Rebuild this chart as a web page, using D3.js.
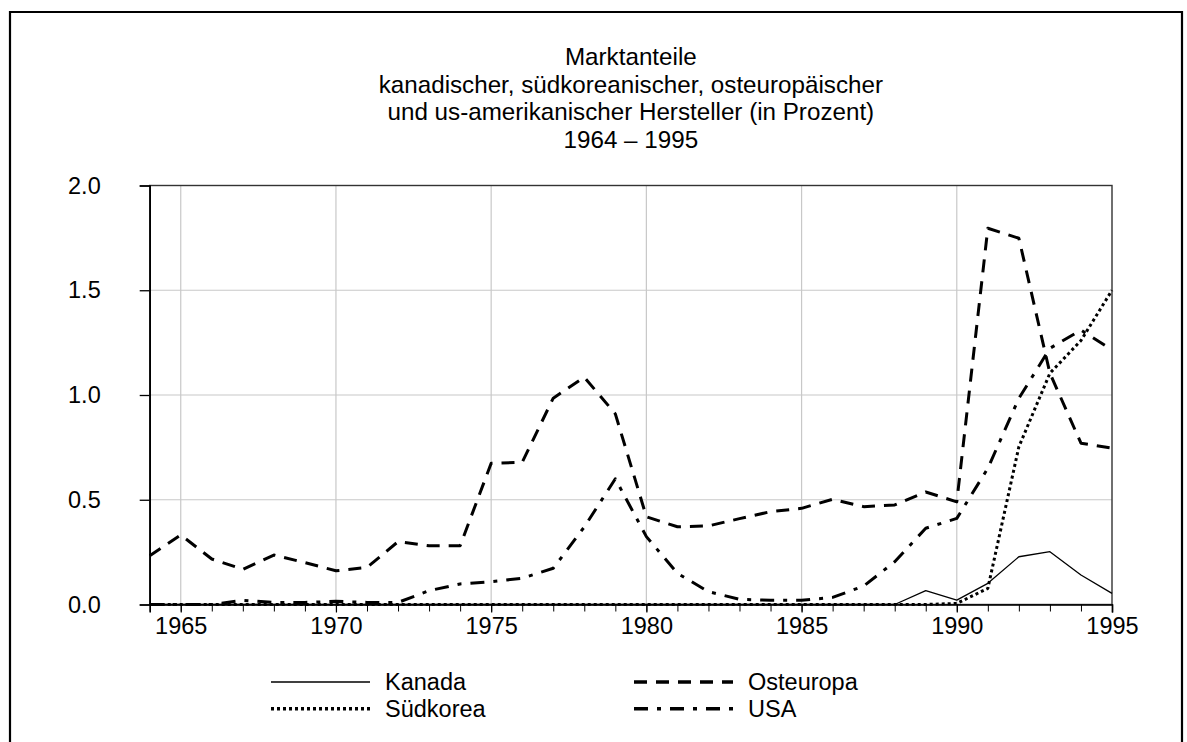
<!DOCTYPE html>
<html><head><meta charset="utf-8">
<script src="https://cdn.jsdelivr.net/npm/d3@7"></script>
<style>html,body{margin:0;padding:0;background:#fff;}svg{display:block;}</style>
</head><body>
<svg id="chart" width="1187" height="742"></svg>
<script>
const years = d3.range(1964, 1996);
const kanada = [0,0,0,0,0,0,0,0,0,0,0,0,0,0,0,0,0,0,0,0,0,0,0,0,0,0.066,0.021,0.101,0.228,0.252,0.141,0.053];
const suedkorea = [0,0,0,0,0,0,0,0,0,0,0,0,0,0,0,0,0,0,0,0,0,0,0,0,0,0,0.005,0.077,0.753,1.104,1.26,1.50];
const osteuropa = [0.233,0.332,0.217,0.168,0.236,0.20,0.161,0.177,0.30,0.28,0.28,0.674,0.679,0.985,1.085,0.91,0.419,0.371,0.375,0.41,0.443,0.459,0.502,0.467,0.475,0.537,0.49,1.796,1.748,1.104,0.77,0.746];
const usa = [0,0,0,0.02,0.01,0.01,0.015,0.01,0.01,0.066,0.098,0.109,0.125,0.173,0.37,0.60,0.324,0.149,0.061,0.025,0.02,0.02,0.034,0.088,0.204,0.364,0.411,0.65,0.984,1.223,1.31,1.215];
const seriesNames = ["Kanada","Südkorea","Osteuropa","USA"];
const yTicks = [0, 0.5, 1.0, 1.5, 2.0];
const xTicks = [1965, 1970, 1975, 1980, 1985, 1990, 1995];
const titleLines = ["Marktanteile","kanadischer, südkoreanischer, osteuropäischer","und us-amerikanischer Hersteller (in Prozent)","1964 – 1995"];

const styles = {
  "Kanada": {w:1.3, dash:null},
  "Südkorea": {w:3, dash:"3,3"},
  "Osteuropa": {w:3, dash:"13,9"},
  "USA": {w:3, dash:"14,9,4,9"}
};
const dataMap = {"Kanada":kanada,"Südkorea":suedkorea,"Osteuropa":osteuropa,"USA":usa};

const svg = d3.select("#chart");
const font = "Arial, 'Liberation Sans', sans-serif";
const L=149.7, R=1112, T=185.5, B=604.5;
const x = d3.scaleLinear().domain([1964,1995]).range([L,R]);
const y = d3.scaleLinear().domain([0,2]).range([B,T]);

// outer frame (no bottom edge visible)
svg.append("path").attr("d","M10,745V12H1182V745").attr("fill","none").attr("stroke","#000").attr("stroke-width",2.2);

// title
svg.append("g").selectAll("text").data(titleLines).join("text")
  .attr("x",(L+R)/2).attr("y",(d,i)=>65+i*27.5)
  .attr("text-anchor","middle").attr("font-family",font).attr("font-size",24.2).attr("fill","#000")
  .text(d=>d);

// grid
const g = svg.append("g");
g.selectAll(".gx").data(xTicks.filter(t=>t<1995)).join("line")
  .attr("x1",d=>x(d)).attr("x2",d=>x(d)).attr("y1",T).attr("y2",B)
  .attr("stroke","#c8c8c8").attr("stroke-width",1.2);
g.selectAll(".gy").data(yTicks.filter(t=>t>0&&t<2)).join("line")
  .attr("x1",L).attr("x2",R).attr("y1",d=>y(d)).attr("y2",d=>y(d))
  .attr("stroke","#c8c8c8").attr("stroke-width",1.2);

// frame of plot
svg.append("rect").attr("x",L).attr("y",T).attr("width",R-L).attr("height",B-T)
  .attr("fill","none").attr("stroke","#333").attr("stroke-width",1.4);

// y axis
const yAxis = d3.axisLeft(y).tickValues(yTicks).tickFormat(d3.format(".1f")).tickSize(10).tickPadding(39);
const ya = svg.append("g").attr("transform",`translate(${L},0)`).call(yAxis);
ya.select(".domain").attr("stroke","#000").attr("stroke-width",1.6);
ya.selectAll(".tick line").attr("stroke","#000").attr("stroke-width",1.3);
ya.selectAll("text").attr("font-family",font).attr("font-size",23.5).attr("fill","#000");

// x axis minor ticks
const xMinor = d3.axisBottom(x).tickValues(years).tickFormat("").tickSize(7);
const xm = svg.append("g").attr("transform",`translate(0,${B})`).call(xMinor);
xm.select(".domain").remove();
xm.selectAll(".tick line").attr("stroke","#000").attr("stroke-width",1);

const xAxis = d3.axisBottom(x).tickValues(xTicks).tickFormat(d3.format("d")).tickSize(8).tickPadding(5);
const xa = svg.append("g").attr("transform",`translate(0,${B})`).call(xAxis);
xa.select(".domain").attr("stroke","#000").attr("stroke-width",1.6);
xa.selectAll(".tick line").attr("stroke","#000").attr("stroke-width",1.2);
xa.selectAll("text").attr("font-family",font).attr("font-size",23.5).attr("fill","#000");

// lines
const line = d3.line().x((d,i)=>x(years[i])).y(d=>y(d));
const lg = svg.append("g");
seriesNames.forEach(n=>{
  lg.append("path").datum(dataMap[n]).attr("d",line)
    .attr("fill","none").attr("stroke","#000").attr("stroke-width",styles[n].w)
    .attr("stroke-dasharray",styles[n].dash).attr("stroke-linejoin","round");
});

// legend
const legPos = {"Kanada":[271,682],"Südkorea":[271,708.7],"Osteuropa":[634,682],"USA":[634,708.7]};
seriesNames.forEach(n=>{
  const [lx,ly] = legPos[n];
  svg.append("line").attr("x1",lx).attr("x2",lx+99).attr("y1",ly).attr("y2",ly)
    .attr("stroke","#000").attr("stroke-width",n==="Kanada"?1.5:styles[n].w+0.5).attr("stroke-dasharray",styles[n].dash);
  svg.append("text").attr("x",lx+114).attr("y",ly).attr("dy","0.35em")
    .attr("font-family",font).attr("font-size",23.5).attr("fill","#000").text(n);
});
</script>
</body></html>
